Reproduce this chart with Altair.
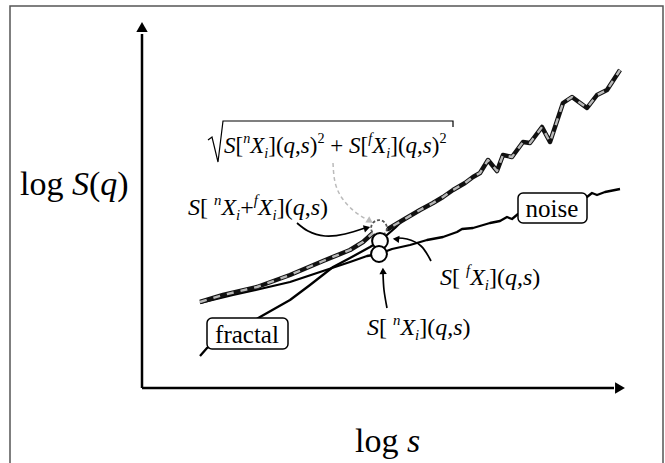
import altair as alt
import pandas as pd

# ---- schematic data (plot units: 1 unit of log s / log S = 1 px of plot area) ----
combined_x = [58, 81, 115, 148, 181, 208, 221, 231, 238, 246, 261, 278, 291, 301, 311, 323, 331,
              338, 346, 355, 361, 370, 381, 388, 400, 408, 421, 430, 445, 455, 465, 478]
combined_y = [86, 93, 101, 113, 127, 138, 146, 155, 159, 159, 168, 178, 185, 191, 198, 205, 211,
              215, 228, 217, 233, 231, 246, 245, 261, 246, 285, 291, 280, 293, 298, 318]

noise_x = [58, 91, 118, 148, 181, 208, 225, 237, 250, 268, 285, 301, 315, 320, 331, 348, 358,
           365, 370, 376, 445, 450, 455, 463, 478]
noise_y = [85, 93, 99, 106, 117, 126, 132, 134, 139, 143, 148, 151, 156, 159, 160, 165, 167,
           171, 169, 174, 191, 195, 193, 196, 199]

fractal_x = [58, 65, 118, 148, 168, 191, 208, 228, 238, 253, 261] + combined_x[11:]
fractal_y = [32, 40, 71, 88, 103, 121, 130, 141, 147, 160, 168] + combined_y[11:]

circle_x = [237, 238, 237]
circle_y = [160, 147, 134]

FONT = "Liberation Serif, Times New Roman, Times, serif"

xs = alt.Scale(domain=[0, 483], nice=False, zero=False)
ys = alt.Scale(domain=[0, 366], nice=False, zero=False)


def X(f="x"):
    return alt.X(f + ":Q", scale=xs, axis=None)


def Y(f="y"):
    return alt.Y(f + ":Q", scale=ys, axis=None)


def series(xv, yv):
    return pd.DataFrame({"x": xv, "y": yv, "i": range(len(xv))})


layers = []

# outer frame
frame = pd.DataFrame({"x": [-132], "x2": [521], "y": [382], "y2": [-120]})
layers.append(alt.Chart(frame).mark_rect(fillOpacity=0, stroke="#555", strokeWidth=1.5).encode(
    x=X(), x2="x2:Q", y=Y(), y2="y2:Q"))

# axes
axes = pd.DataFrame({"x": [0, 0], "y": [0, 0], "x2": [0, 472], "y2": [354, 0]})
layers.append(alt.Chart(axes).mark_rule(color="black", strokeWidth=2.5).encode(
    x=X(), y=Y(), x2="x2:Q", y2="y2:Q"))
heads = pd.DataFrame({"x": [0, 478], "y": [361, 0], "a": [0, 90]})
layers.append(alt.Chart(heads).mark_point(shape="triangle-up", filled=True, color="black",
                                          size=130, opacity=1).encode(
    x=X(), y=Y(), angle=alt.Angle("a:Q", scale=None)))

# data lines
layers.append(alt.Chart(series(fractal_x, fractal_y)).mark_line(
    color="black", strokeWidth=2.3, strokeJoin="round").encode(x=X(), y=Y(), order="i:Q"))
layers.append(alt.Chart(series(noise_x, noise_y)).mark_line(
    color="black", strokeWidth=2.3, strokeJoin="round").encode(x=X(), y=Y(), order="i:Q"))
layers.append(alt.Chart(series(combined_x, combined_y)).mark_line(
    color="#111", strokeWidth=4.5, strokeJoin="round").encode(x=X(), y=Y(), order="i:Q"))
layers.append(alt.Chart(series(combined_x, combined_y)).mark_line(
    color="#b8b8b8", strokeWidth=2.4, strokeDash=[7, 7], strokeCap="butt",
    strokeJoin="round").encode(x=X(), y=Y(), order="i:Q"))

# label boxes
boxes = pd.DataFrame({"x": [376, 65], "x2": [445, 146], "y": [195, 70], "y2": [165, 39]})
layers.append(alt.Chart(boxes).mark_rect(fill="white", stroke="black", strokeWidth=1.5,
                                         cornerRadius=5).encode(x=X(), x2="x2:Q", y=Y(), y2="y2:Q"))
box_text = pd.DataFrame({"x": [410, 105], "y": [171, 45], "t": ["noise", "fractal"]})
layers.append(alt.Chart(box_text).mark_text(font=FONT, fontSize=25, color="black",
                                            align="center", baseline="alphabetic").encode(
    x=X(), y=Y(), text="t:N"))

# curved arrows
arrows = pd.DataFrame({
    "x": [155, 166, 183, 203, 223, 289, 279, 265, 255, 245, 242, 241],
    "y": [165, 157, 152, 154, 160, 127, 142, 149, 150, 80, 98, 115],
    "g": ["a"] * 5 + ["b"] * 4 + ["c"] * 3,
    "i": list(range(12)),
})
layers.append(alt.Chart(arrows).mark_line(color="black", strokeWidth=1.7, interpolate="natural").encode(
    x=X(), y=Y(), detail="g:N", order="i:Q"))
gray_arrow = pd.DataFrame({"x": [191, 193, 200, 212, 224], "y": [225, 206, 190, 177, 169],
                           "i": range(5)})
layers.append(alt.Chart(gray_arrow).mark_line(color="#bbbbbb", strokeWidth=1.5, strokeDash=[4, 3],
                                              interpolate="natural").encode(x=X(), y=Y(), order="i:Q"))
ahead = pd.DataFrame({"x": [225, 254, 241], "y": [160, 149, 117], "a": [74, 276, 358]})
layers.append(alt.Chart(ahead).mark_point(shape="triangle-up", filled=True, color="black",
                                          size=55, opacity=1).encode(
    x=X(), y=Y(), angle=alt.Angle("a:Q", scale=None)))
ghead = pd.DataFrame({"x": [228], "y": [167], "a": [122]})
layers.append(alt.Chart(ghead).mark_point(shape="triangle-up", filled=True, color="#bbbbbb",
                                          size=55, opacity=1).encode(
    x=X(), y=Y(), angle=alt.Angle("a:Q", scale=None)))

# circles
cdf = pd.DataFrame({"x": circle_x, "y": circle_y})
layers.append(alt.Chart(cdf.iloc[[0]]).mark_point(shape="circle", filled=True, fill="white",
                                                  stroke="#555", strokeWidth=1.8, strokeDash=[3, 2],
                                                  size=250, opacity=1, fillOpacity=1).encode(x=X(), y=Y()))
layers.append(alt.Chart(cdf.iloc[[1, 2]]).mark_point(shape="circle", filled=True, fill="white",
                                                     stroke="black", strokeWidth=2, size=250,
                                                     opacity=1, fillOpacity=1).encode(x=X(), y=Y()))

# radical sign of the formula
rad = pd.DataFrame({"x": [66, 70, 76, 81, 311, 311], "y": [248, 251, 226, 267, 267, 261],
                    "i": range(6)})
layers.append(alt.Chart(rad).mark_line(color="black", strokeWidth=1.2).encode(
    x=X(), y=Y(), order="i:Q"))

# ---- formula text layout (Times metrics) ----
W = {("S", 1): 500, ("X", 1): 611, ("q", 1): 500, ("s", 1): 389, ("n", 1): 500, ("f", 1): 278,
     ("i", 1): 278, ("[", 0): 333, ("]", 0): 333, ("(", 0): 333, (")", 0): 333, (",", 0): 250,
     ("+", 0): 564, (" ", 0): 250, ("2", 0): 500, ("l", 0): 278, ("o", 0): 500, ("g", 0): 500}


def layout(x0, y0, size, runs):
    out = []
    x = x0
    for text, it, kind in runs:
        s = size * 0.62 if kind else size
        dy = 0.42 * size if kind == "sup" else (-0.2 * size if kind == "sub" else 0)
        if text.strip():
            out.append({"x": x, "y": y0 + dy, "t": text, "s": s, "it": it})
        x += sum(W[(c, it)] for c in text) / 1000 * s
    return out


def sx(sup):
    return [("S", 1, ""), ("[", 0, ""), (" ", 0, ""), (sup, 1, "sup"), ("X", 1, ""), ("i", 1, "sub")]


tail = [("](", 0, ""), ("q", 1, ""), (",", 0, ""), ("s", 1, ""), (")", 0, "")]

pieces = []
pieces += layout(46, 173, 24, sx("n") + [("+", 0, ""), ("f", 1, "sup"), ("X", 1, ""), ("i", 1, "sub")] + tail)
pieces += layout(298, 103, 24, sx("f") + tail)
pieces += layout(225, 53, 24, sx("n") + tail)
sq1 = [("S", 1, ""), ("[", 0, ""), ("n", 1, "sup"), ("X", 1, ""), ("i", 1, "sub")] + tail + [("2", 0, "sup")]
sq2 = [("S", 1, ""), ("[", 0, ""), ("f", 1, "sup"), ("X", 1, ""), ("i", 1, "sub")] + tail + [("2", 0, "sup")]
pieces += layout(82, 235, 23, sq1 + [(" ", 0, ""), ("+", 0, ""), (" ", 0, "")] + sq2)
pieces += layout(-122, 193, 34, [("log", 0, ""), (" ", 0, ""), ("S", 1, ""), ("(", 0, ""), ("q", 1, ""), (")", 0, "")])
pieces += layout(213, -64, 34, [("log", 0, ""), (" ", 0, ""), ("s", 1, "")])
pdf = pd.DataFrame(pieces)

for it, style in [(0, "normal"), (1, "italic")]:
    layers.append(alt.Chart(pdf[pdf.it == it]).mark_text(
        font=FONT, fontStyle=style, color="black", align="left",
        baseline="alphabetic").encode(x=X(), y=Y(), text="t:N", size=alt.Size("s:Q", scale=None)))

chart = alt.layer(*layers).properties(
    width=483, height=366, autosize="none",
    padding={"left": 142, "top": 22, "right": 40, "bottom": 75},
    background="white",
).configure_view(stroke=None)

chart.save("out.html", embed_options={"renderer": "svg", "actions": False})
